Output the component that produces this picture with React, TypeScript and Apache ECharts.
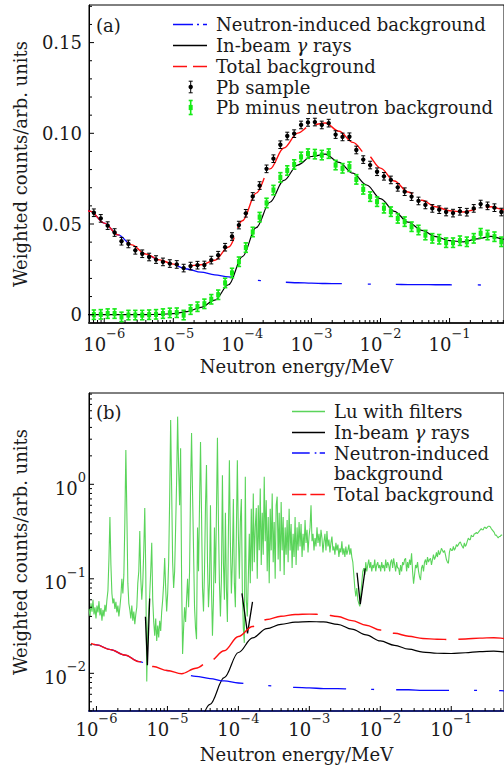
import React, { useEffect, useRef } from 'react';
import * as echarts from 'echarts';

const FONT = 'DejaVu Serif';
const TXT = '#1a1a1a';

// ---------------- Panel (a) ----------------
// energies of the measured points, log10(E / MeV)
const pointLogE = [
  -6.15, -6.05, -5.95, -5.85, -5.75, -5.65, -5.55, -5.45, -5.35, -5.25,
  -5.15, -5.05, -4.95, -4.85, -4.75, -4.65, -4.55, -4.45, -4.35, -4.25,
  -4.15, -4.05, -3.95, -3.85, -3.75, -3.65, -3.55, -3.45, -3.35, -3.25,
  -3.15, -3.05, -2.95, -2.85, -2.75, -2.65, -2.55, -2.45, -2.35, -2.25,
  -2.15, -2.05, -1.95, -1.85, -1.75, -1.65, -1.55, -1.45, -1.35, -1.25,
  -1.15, -1.05, -0.95, -0.85, -0.75, -0.65, -0.55, -0.45, -0.35, -0.25,
];
const pbSample = [
  0.0562, 0.0531, 0.0491, 0.0453, 0.0405, 0.039, 0.0355, 0.0336, 0.0318, 0.0304,
  0.0291, 0.0282, 0.0277, 0.0257, 0.0268, 0.0273, 0.0274, 0.0301, 0.0328, 0.0372,
  0.0431, 0.0494, 0.0559, 0.0652, 0.0712, 0.0804, 0.086, 0.0937, 0.0985, 0.0998,
  0.1046, 0.106, 0.1062, 0.1046, 0.1056, 0.0993, 0.098, 0.0981, 0.0908, 0.0855,
  0.0825, 0.0788, 0.0763, 0.0743, 0.0702, 0.0678, 0.0651, 0.0627, 0.0605, 0.0586,
  0.0579, 0.0566, 0.056, 0.057, 0.0565, 0.0586, 0.061, 0.06, 0.059, 0.0566,
];
const pbSampleErr = 0.0021;
const pbMinusNeutron = [
  0.0, 0.0002, 0.0006, 0.0006, -0.0012, -0.0002, -0.0002, -0.0002, 0.0, 0.0002,
  0.0006, 0.001, 0.0011, -0.0002, 0.0028, 0.0044, 0.006, 0.0085, 0.011, 0.0175,
  0.023, 0.0292, 0.037, 0.0456, 0.0538, 0.0616, 0.0687, 0.0757, 0.0795, 0.0828,
  0.087, 0.0888, 0.0885, 0.088, 0.0888, 0.0825, 0.0807, 0.0816, 0.0746, 0.0691,
  0.0651, 0.0623, 0.0587, 0.0568, 0.0531, 0.0513, 0.0485, 0.0467, 0.0439, 0.0421,
  0.0416, 0.0397, 0.0397, 0.0408, 0.0402, 0.0421, 0.0449, 0.0439, 0.043, 0.0402,
];
const pbMinusErr = 0.0026;

// fitted curves, log10(E / MeV)
const curveLogE = [
  -6.4, -6.2, -6.0, -5.8, -5.6, -5.4, -5.2, -5.0, -4.8, -4.6,
  -4.4, -4.2, -4.0, -3.8, -3.6, -3.4, -3.2, -3.0, -2.8, -2.6,
  -2.4, -2.2, -2.0, -1.8, -1.6, -1.4, -1.2, -1.0, -0.8, -0.6,
  -0.4, -0.2, 0.0,
];
const neutronBgA = [
  0.064, 0.057, 0.0505, 0.044, 0.0385, 0.0335, 0.03, 0.0273, 0.0252, 0.0235,
  0.022, 0.0208, 0.0198, 0.019, 0.0184, 0.0179, 0.0176, 0.0174, 0.0172, 0.0171,
  0.017, 0.0169, 0.0168, 0.0167, 0.0166, 0.0166, 0.0165, 0.0165, 0.0164, 0.0164,
  0.0163, 0.0163, 0.0163,
];
const inBeamA = [
  0, 0, 0, 0, 0, 0, 0.0002, 0.0006, 0.0017, 0.004,
  0.008, 0.0165, 0.032, 0.048, 0.062, 0.074, 0.0825, 0.0872, 0.0885, 0.084,
  0.078, 0.0715, 0.064, 0.057, 0.051, 0.0465, 0.043, 0.0408, 0.0402, 0.0418,
  0.0432, 0.0415, 0.04,
];
const totalBgA = [
  0.064, 0.057, 0.0505, 0.044, 0.0385, 0.0335, 0.0302, 0.0279, 0.0269, 0.0275,
  0.03, 0.0373, 0.0518, 0.067, 0.0804, 0.0919, 0.1001, 0.1046, 0.1057, 0.1011,
  0.095, 0.0884, 0.0808, 0.0737, 0.0676, 0.0631, 0.0595, 0.0573, 0.0566, 0.0582,
  0.0595, 0.0578, 0.0563,
];

// ---------------- Panel (b) ----------------
const neutronBgB = [
  0.0245, 0.0224, 0.02, 0.0178, 0.0156, 0.0133, 0.0118, 0.0107, 0.0099, 0.0093,
  0.0088, 0.0083, 0.0079, 0.0076, 0.0074, 0.0072, 0.0071, 0.007, 0.0069, 0.0069,
  0.0068, 0.0068, 0.0067, 0.0067, 0.0067, 0.0066, 0.0066, 0.0066, 0.0066, 0.0066,
  0.0066, 0.0065, 0.0065,
];
const inBeamB = [
  null, null, null, null, null, null, null, null, null, 0.002,
  0.0047, 0.009, 0.0166, 0.0237, 0.0297, 0.033, 0.0348, 0.0353, 0.035, 0.033,
  0.0293, 0.0255, 0.022, 0.0198, 0.018, 0.0168, 0.0163, 0.0162, 0.0165, 0.017,
  0.0172, 0.0168, 0.0164,
];
const totalBgB = [
  0.0245, 0.0224, 0.02, 0.0178, 0.0156, 0.0133, 0.0118, 0.0107, 0.0099, 0.0113,
  0.0135, 0.0173, 0.0245, 0.0313, 0.0371, 0.0402, 0.0419, 0.0423, 0.0419, 0.0399,
  0.0361, 0.0323, 0.0287, 0.0265, 0.0247, 0.0234, 0.0229, 0.0228, 0.0231, 0.0236,
  0.0238, 0.0233, 0.0229,
];
// in-beam gamma notches (filter resonances)
const notchLogE = [
  [-5.31, -5.282, -5.25],
  [-3.95, -3.871, -3.801],
  [-2.328, -2.282, -2.212],
];
const notchCounts = [
  [0.0397, 0.0122, 0.062],
  [0.07, 0.0265, 0.057],
  [0.116, 0.054, 0.129],
];
// Lu with filters spectrum: log-uniform bins
const luLogEStart = -6.105;
const luLogEStep = 0.01403;
const luCounts = [
  0.048, 0.04, 0.055, 0.045, 0.06, 0.042, 0.05, 0.038, 0.052, 0.044,
  0.058, 0.041, 0.049, 0.036, 0.047, 0.04, 0.053, 0.045, 0.06, 0.075,
  0.16, 0.45, 0.14, 0.07, 0.055, 0.062, 0.048, 0.057, 0.044, 0.052,
  0.04, 0.05, 0.065, 0.1, 0.07, 0.11, 0.4, 2.3, 0.5, 0.09,
  0.055, 0.047, 0.038, 0.052, 0.036, 0.045, 0.033, 0.042, 0.05, 0.09,
  0.12, 0.32, 0.1, 0.06, 0.09, 0.2, 0.56, 0.12, 0.0082, 0.03,
  0.045, 0.07, 0.12, 0.24, 0.06, 0.035, 0.025, 0.038, 0.022, 0.032,
  0.024, 0.036, 0.028, 0.045, 0.06, 0.09, 0.166, 0.08, 0.045, 0.07,
  0.15, 0.7, 4.8, 0.9, 0.15, 0.08, 0.12, 0.35, 1.1, 5.2,
  1.5, 0.6, 2.4, 0.1, 0.016, 0.03, 0.05, 0.035, 0.06, 0.1,
  0.05, 0.12, 0.9, 3.5, 0.8, 0.2, 0.05, 0.03, 0.023, 0.35,
  0.12, 0.6, 2.8, 0.5, 0.08, 0.045, 0.12, 0.6, 1.6, 0.15,
  0.05, 0.09, 0.6, 0.08, 0.025, 0.06, 0.35, 0.09, 0.5, 3.1,
  0.4, 0.09, 0.04, 0.1, 1.25, 0.15, 0.06, 0.5, 0.08, 0.035,
  0.3, 1.8, 0.25, 0.07, 0.15, 0.7, 0.09, 0.05, 0.3, 1.8,
  0.3, 0.1, 0.4, 0.7, 0.08, 0.03, 0.021, 1.2, 0.06, 0.04,
  0.1, 0.3, 0.09, 0.55, 0.12, 0.8, 0.15, 0.35, 0.56, 0.1,
  0.6, 0.2, 0.9, 0.14, 0.5, 0.18, 1.2, 0.25, 0.68, 0.12,
  0.45, 0.09, 0.55, 0.2, 0.8, 0.15, 0.4, 0.1, 0.6, 0.74,
  0.16, 0.5, 0.12, 0.65, 0.2, 0.45, 0.11, 0.35, 0.18, 0.42,
  0.15, 0.55, 0.2, 0.38, 0.13, 0.3, 0.17, 0.45, 0.14, 0.35,
  0.2, 0.4, 0.22, 0.38, 0.17, 0.3, 0.2, 0.42, 0.24, 0.33,
  0.19, 0.28, 0.35, 0.6, 0.25, 0.3, 0.2, 0.27, 0.22, 0.35,
  0.24, 0.3, 0.22, 0.33, 0.27, 0.19, 0.25, 0.3, 0.2, 0.32,
  0.22, 0.26, 0.19, 0.24, 0.28, 0.2, 0.22, 0.18, 0.24, 0.2,
  0.23, 0.17, 0.21, 0.19, 0.25, 0.18, 0.21, 0.17, 0.22, 0.18,
  0.2, 0.23, 0.18, 0.21, 0.17, 0.15, 0.11, 0.08, 0.065, 0.08,
  0.06, 0.055, 0.051, 0.07, 0.09, 0.12, 0.13, 0.11, 0.15, 0.12,
  0.14, 0.16, 0.13, 0.15, 0.12, 0.14, 0.13, 0.16, 0.12, 0.14,
  0.15, 0.13, 0.14, 0.12, 0.15, 0.13, 0.14, 0.12, 0.16, 0.13,
  0.15, 0.14, 0.12, 0.15, 0.16, 0.13, 0.165, 0.14, 0.12, 0.15,
  0.13, 0.13, 0.11, 0.14, 0.12, 0.15, 0.14, 0.16, 0.165, 0.12,
  0.15, 0.13, 0.16, 0.14, 0.186, 0.12, 0.089, 0.11, 0.14, 0.13,
  0.15, 0.12, 0.105, 0.097, 0.13, 0.14, 0.12, 0.15, 0.16, 0.14,
  0.17, 0.15, 0.16, 0.165, 0.14, 0.16, 0.18, 0.16, 0.17, 0.19,
  0.17, 0.2, 0.18, 0.19, 0.21, 0.2, 0.19, 0.2, 0.18, 0.16,
  0.15, 0.146, 0.19, 0.21, 0.2, 0.2, 0.22, 0.2, 0.21, 0.23,
  0.22, 0.23, 0.24, 0.246, 0.23, 0.22, 0.21, 0.24, 0.22, 0.23,
  0.25, 0.27, 0.26, 0.26, 0.29, 0.28, 0.28, 0.3, 0.3, 0.31,
  0.3, 0.31, 0.32, 0.33, 0.34, 0.33, 0.33, 0.35, 0.35, 0.34,
  0.35, 0.36, 0.36, 0.355, 0.34, 0.33, 0.32, 0.31, 0.29, 0.29,
  0.28, 0.27, 0.28, 0.28, 0.29, 0.29,
];

// ---------------- ticks ----------------
const decadeExps = [-7, -6, -5, -4, -3, -2, -1, 0];
const minorMantissas = [2, 3, 4, 5, 6, 7, 8, 9];
const yMajorA = [0, 0.05, 0.1, 0.15];
const yMinorA = [0.01, 0.02, 0.03, 0.04, 0.06, 0.07, 0.08, 0.09, 0.11, 0.12, 0.13, 0.14, 0.16, 0.17];

// axis extents (pixel geometry of the reference)
const xMinA = 6.018e-7, xMaxA = 0.6139, yMinA = -0.004576, yMaxA = 0.17073;
const xMinB = 7.848e-7, xMaxB = 0.5537, yMinB = 0.003993, yMaxB = 9.249;

const inRange = (v: number, lo: number, hi: number) => v > lo && v < hi;
const majorsIn = (lo: number, hi: number) => decadeExps.map((e) => 10 ** e).filter((v) => inRange(v, lo, hi));
const minorsIn = (lo: number, hi: number) => {
  const out: number[] = [];
  decadeExps.forEach((e) => minorMantissas.forEach((m) => out.push(m * 10 ** e)));
  return out.filter((v) => inRange(v, lo, hi));
};

const powLabel = (v: number) => {
  const e = Math.log10(v);
  const r = Math.round(e);
  if (Math.abs(e - r) > 1e-6) return '';
  return `{b|10}{s|${r < 0 ? '\u2212' : ''}${Math.abs(r)}}`;
};
const powRich = {
  b: { fontSize: 18, fontFamily: FONT, lineHeight: 26, verticalAlign: 'bottom', color: TXT },
  s: { fontSize: 13, fontFamily: FONT, lineHeight: 13, verticalAlign: 'top', color: TXT },
};

function tickSeries(idx: number, dir: 'x' | 'y', values: number[], fixed: number, len: number) {
  return {
    type: 'custom',
    xAxisIndex: idx,
    yAxisIndex: idx,
    silent: true,
    z: 20,
    encode: { x: 0, y: 1 },
    data: values.map((v) => (dir === 'x' ? [v, fixed] : [fixed, v])),
    renderItem: (_p: any, api: any) => {
      const p = api.coord([api.value(0), api.value(1)]);
      const shape =
        dir === 'x'
          ? { x1: p[0], y1: p[1], x2: p[0], y2: p[1] - len }
          : { x1: p[0], y1: p[1], x2: p[0] + len, y2: p[1] };
      return { type: 'line', shape, style: { stroke: '#000', lineWidth: 1 } };
    },
  };
}

function errorSeries(values: number[], err: number, color: string, square: boolean) {
  return {
    type: 'custom',
    xAxisIndex: 0,
    yAxisIndex: 0,
    z: 8,
    encode: { x: 0, y: 1 },
    data: pointLogE.map((l, i) => [10 ** l, values[i], err]),
    renderItem: (_p: any, api: any) => {
      const x = api.value(0), y = api.value(1), e = api.value(2);
      const c = api.coord([x, y]);
      const lo = api.coord([x, y - e]);
      const hi = api.coord([x, y + e]);
      const st = { stroke: color, lineWidth: square ? 1.6 : 1 };
      const cap = square ? 2.2 : 2;
      return {
        type: 'group',
        children: [
          { type: 'line', shape: { x1: c[0], y1: lo[1], x2: c[0], y2: hi[1] }, style: st },
          { type: 'line', shape: { x1: c[0] - cap, y1: lo[1], x2: c[0] + cap, y2: lo[1] }, style: st },
          { type: 'line', shape: { x1: c[0] - cap, y1: hi[1], x2: c[0] + cap, y2: hi[1] }, style: st },
          square
            ? { type: 'rect', shape: { x: c[0] - 2, y: c[1] - 2.6, width: 4, height: 5.2 }, style: { fill: color } }
            : { type: 'circle', shape: { cx: c[0], cy: c[1], r: 2.2 }, style: { fill: color } },
        ],
      };
    },
  };
}

function lineSeries(idx: number, logE: number[], vals: (number | null)[], color: string, width: number, type: any, dashOffset: number, z: number) {
  const data: number[][] = [];
  logE.forEach((l, i) => {
    const v = vals[i];
    if (v !== null && v !== undefined) data.push([10 ** l, v]);
  });
  return {
    type: 'line',
    xAxisIndex: idx,
    yAxisIndex: idx,
    data,
    showSymbol: false,
    symbol: 'none',
    smooth: 0.35,
    smoothMonotone: 'x',
    z,
    lineStyle: { color, width, type, dashOffset },
  };
}

const legendText = (x: number, y: number, text: string) => ({
  type: 'text',
  x,
  y,
  style: {
    text,
    fontFamily: FONT,
    fontSize: 18,
    fill: TXT,
    verticalAlign: 'middle',
    align: 'left',
    rich: { g: { fontStyle: 'italic', fontFamily: FONT, fontSize: 18, fill: TXT } },
  },
});
const legendLine = (x1: number, x2: number, y: number, color: string, w: number, dash?: number[]) => ({
  type: 'line',
  shape: { x1, y1: y, x2, y2: y },
  style: { stroke: color, lineWidth: w, lineDash: dash },
});
const legendPoint = (x: number, y: number, color: string, square: boolean) => {
  const h = square ? 7 : 5.8;
  const st = { stroke: color, lineWidth: square ? 1.6 : 1 };
  return {
    type: 'group',
    children: [
      { type: 'line', shape: { x1: x, y1: y - h, x2: x, y2: y + h }, style: st },
      { type: 'line', shape: { x1: x - 2, y1: y - h, x2: x + 2, y2: y - h }, style: st },
      { type: 'line', shape: { x1: x - 2, y1: y + h, x2: x + 2, y2: y + h }, style: st },
      square
        ? { type: 'rect', shape: { x: x - 2, y: y - 2.6, width: 4, height: 5.2 }, style: { fill: color } }
        : { type: 'circle', shape: { cx: x, cy: y, r: 2.2 }, style: { fill: color } },
    ],
  };
};

const BLUE = '#0a0aff';
const RED = '#ff1010';
const GREENPT = '#16ea16';
const GREENLN = '#5ad45a';

function buildOption() {
  const yName = 'Weighted counts/arb. units';
  const xName = 'Neutron energy/MeV';
  const nameStyle = { fontFamily: FONT, fontSize: 18, color: TXT };

  return {
    animation: false,
    backgroundColor: '#fff',
    textStyle: { fontFamily: FONT },
    grid: [
      { left: 89, top: 5, right: -2, height: 318, show: true, borderColor: '#000', borderWidth: 1 },
      { left: 89, top: 393, right: -2, height: 318, show: true, borderColor: '#000', borderWidth: 1 },
    ],
    xAxis: [
      {
        type: 'log', gridIndex: 0, min: xMinA, max: xMaxA, logBase: 10,
        name: xName, nameLocation: 'middle', nameGap: 34, nameTextStyle: nameStyle,
        axisLine: { show: true, onZero: false, lineStyle: { color: '#222', width: 2 } },
        axisTick: { show: false }, splitLine: { show: false }, minorTick: { show: false },
        axisLabel: { formatter: powLabel, rich: powRich, margin: 4, showMinLabel: false, showMaxLabel: false },
      },
      {
        type: 'log', gridIndex: 1, min: xMinB, max: xMaxB, logBase: 10,
        name: xName, nameLocation: 'middle', nameGap: 34, nameTextStyle: nameStyle,
        axisLine: { show: true, onZero: false, lineStyle: { color: '#1b2270', width: 2 } },
        axisTick: { show: false }, splitLine: { show: false }, minorTick: { show: false },
        axisLabel: { formatter: powLabel, rich: powRich, margin: 1, showMinLabel: false, showMaxLabel: false },
      },
    ],
    yAxis: [
      {
        type: 'value', gridIndex: 0, min: yMinA, max: yMaxA, splitNumber: 4,
        name: yName, nameLocation: 'middle', nameGap: 60, nameTextStyle: nameStyle,
        axisLine: { show: true, onZero: false, lineStyle: { color: '#000', width: 1 } },
        axisTick: { show: false }, splitLine: { show: false },
        axisLabel: {
          margin: 7, fontFamily: FONT, fontSize: 18, color: TXT, showMinLabel: false, showMaxLabel: false,
          formatter: (v: number) => {
            if (Math.abs(v) < 1e-9) return '0';
            return yMajorA.some((t) => Math.abs(t - v) < 1e-9) ? v.toFixed(2) : '';
          },
        },
      },
      {
        type: 'log', gridIndex: 1, min: yMinB, max: yMaxB, logBase: 10,
        name: yName, nameLocation: 'middle', nameGap: 60, nameTextStyle: nameStyle,
        axisLine: { show: true, onZero: false, lineStyle: { color: '#000', width: 1 } },
        axisTick: { show: false }, splitLine: { show: false }, minorTick: { show: false },
        axisLabel: { formatter: powLabel, rich: powRich, margin: 3, showMinLabel: false, showMaxLabel: false },
      },
    ],
    graphic: [
      legendText(96, 25.5, '(a)'),
      legendLine(173, 207, 24.5, BLUE, 1.3, [20, 4, 2, 4]),
      legendText(216, 24.5, 'Neutron-induced background'),
      legendLine(173, 207, 45.5, '#000', 1.3),
      legendText(216, 45.5, 'In-beam {g|\u03b3} rays'),
      legendLine(173, 207, 66.5, RED, 1.4, [14, 6]),
      legendText(216, 66.5, 'Total background'),
      legendPoint(190.7, 87, '#000', false),
      legendText(216, 87, 'Pb sample'),
      legendPoint(190.7, 107.5, GREENPT, true),
      legendText(216, 107.5, 'Pb minus neutron background'),

      legendText(96, 412.5, '(b)'),
      legendLine(292, 325, 411.5, GREENLN, 1.3),
      legendText(334, 411.5, 'Lu with filters'),
      legendLine(292, 325, 432.5, '#000', 1.3),
      legendText(334, 432.5, 'In-beam {g|\u03b3} rays'),
      legendLine(292, 325, 453, BLUE, 1.3, [17.7, 5, 1.7, 3.3]),
      legendText(334, 453, 'Neutron-induced'),
      legendText(334, 473.5, 'background'),
      legendLine(292, 325, 494.5, RED, 1.4, [14.4, 4]),
      legendText(334, 494, 'Total background'),
    ],
    series: [
      // panel (a)
      lineSeries(0, curveLogE, neutronBgA, BLUE, 1.3, [56, 26, 3, 25], 94.5, 2),
      lineSeries(0, curveLogE, inBeamA, '#000', 1.2, 'solid', 0, 3),
      lineSeries(0, curveLogE, totalBgA, RED, 1.4, [58, 10], 0, 4),
      errorSeries(pbSample, pbSampleErr, '#000', false),
      errorSeries(pbMinusNeutron, pbMinusErr, GREENPT, true),
      // panel (b)
      {
        type: 'line', xAxisIndex: 1, yAxisIndex: 1, showSymbol: false, symbol: 'none', z: 2,
        data: luCounts.map((c, i) => [10 ** (luLogEStart + i * luLogEStep), c]),
        lineStyle: { color: GREENLN, width: 1.1 },
      },
      ...notchLogE.map((ls, k) => ({
        type: 'line', xAxisIndex: 1, yAxisIndex: 1, showSymbol: false, symbol: 'none', z: 4,
        data: ls.map((l, i) => [10 ** l, notchCounts[k][i]]),
        lineStyle: { color: '#000', width: 1.3 },
      })),
      lineSeries(1, curveLogE, inBeamB, '#000', 1.2, 'solid', 0, 4),
      lineSeries(1, curveLogE, neutronBgB, BLUE, 1.3, [53, 25, 3, 22], 76, 5),
      lineSeries(1, curveLogE, totalBgB, RED, 1.4, [54, 12], 41.5, 6),
      // ticks
      tickSeries(0, 'x', majorsIn(xMinA, xMaxA), yMinA, 5),
      tickSeries(0, 'x', minorsIn(xMinA, xMaxA), yMinA, 3),
      tickSeries(0, 'y', yMajorA, xMinA, 5),
      tickSeries(0, 'y', yMinorA, xMinA, 3),
      tickSeries(1, 'x', majorsIn(xMinB, xMaxB), yMinB, 5),
      tickSeries(1, 'x', minorsIn(xMinB, xMaxB), yMinB, 3),
      tickSeries(1, 'y', majorsIn(yMinB, yMaxB), xMinB, 5),
      tickSeries(1, 'y', minorsIn(yMinB, yMaxB), xMinB, 3),
    ],
  };
}

export default function App() {
  const ref = useRef<HTMLDivElement>(null);
  useEffect(() => {
    if (!ref.current) return;
    const chart = echarts.init(ref.current, null, { renderer: 'svg' });
    chart.setOption(buildOption() as any);
    return () => chart.dispose();
  }, []);
  return (
    <div
      ref={ref}
      style={{ position: 'fixed', left: 0, top: 0, width: 504, height: 766, background: '#fff' }}
    />
  );
}
